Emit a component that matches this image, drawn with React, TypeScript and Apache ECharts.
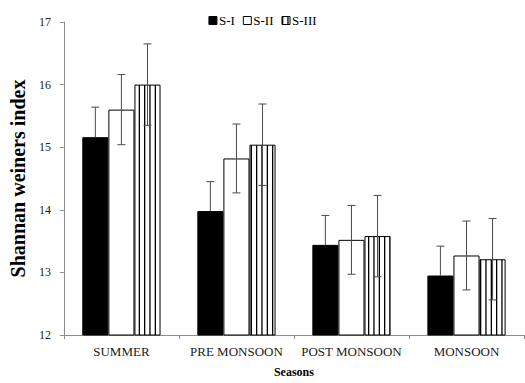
import React, { useEffect, useRef } from "react";
import * as echarts from "echarts";

const categories = ["SUMMER", "PRE MONSOON", "POST MONSOON", "MONSOON"];
const seriesNames = ["S-I", "S-II", "S-III"];
const s1 = [15.16, 13.98, 13.44, 12.95];
const s2 = [15.6, 14.82, 13.52, 13.27];
const s3 = [16.0, 15.04, 13.58, 13.21];
const e1 = [0.48, 0.47, 0.47, 0.47];
const e2 = [0.56, 0.55, 0.55, 0.55];
const e3 = [0.65, 0.65, 0.65, 0.65];

const FONT = "'Liberation Serif', 'Times New Roman', serif";

function makeStripe(): HTMLCanvasElement {
  const c = document.createElement("canvas");
  c.width = 16;
  c.height = 10;
  const ctx = c.getContext("2d")!;
  ctx.fillStyle = "#ffffff";
  ctx.fillRect(0, 0, 16, 10);
  ctx.fillStyle = "#000000";
  ctx.fillRect(0, 0, 1.3, 10);
  ctx.fillRect(5.3, 0, 1.3, 10);
  ctx.fillRect(10.7, 0, 1.3, 10);
  return c;
}

export default function App() {
  const ref = useRef<HTMLDivElement>(null);
  useEffect(() => {
    if (!ref.current) return;
    const chart = echarts.init(ref.current, undefined, { renderer: "svg" });
    const values = [s1, s2, s3];
    const errs = [e1, e2, e3];
    const gapRatio = 0.32;
    const stripe = makeStripe();
    const colors: any[] = ["#000000", "#ffffff", { image: stripe, repeat: "repeat" }];

    const barSeries = values.map((v, i) => ({
      name: seriesNames[i],
      type: "bar",
      data: v,
      barGap: "0%",
      barCategoryGap: "32%",
      itemStyle: { color: colors[i], borderColor: "#000", borderWidth: 1 },
    }));

    const errSeries = values.map((v, i) => ({
      type: "custom",
      name: "err" + i,
      z: 10,
      silent: true,
      data: v.map((val, j) => [j, val, errs[i][j]]),
      renderItem: (params: any, api: any) => {
        const x = api.value(0);
        const y = api.value(1);
        const e = api.value(2);
        const catW = api.size([1, 0])[0];
        const barW = (catW * (1 - gapRatio)) / 3;
        const c = api.coord([x, y]);
        const cx = c[0] + (i - 1) * barW;
        const top = api.coord([x, y + e])[1];
        const bot = api.coord([x, y - e])[1];
        const cap = 4;
        const style = { stroke: "#4a4a4a", lineWidth: 1 };
        const children: any[] = [
          { type: "line", shape: { x1: cx, y1: top, x2: cx, y2: i === 0 ? c[1] : bot }, style },
          { type: "line", shape: { x1: cx - cap, y1: top, x2: cx + cap, y2: top }, style },
        ];
        if (i !== 0) {
          children.push({ type: "line", shape: { x1: cx - cap, y1: bot, x2: cx + cap, y2: bot }, style });
        }
        return { type: "group", children };
      },
    }));

    chart.setOption({
      animation: false,
      backgroundColor: "#ffffff",
      textStyle: { fontFamily: FONT },
      legend: {
        data: seriesNames,
        top: 9,
        left: "center",
        icon: "rect",
        itemWidth: 8,
        itemHeight: 8,
        itemGap: 8,
        itemStyle: { borderColor: "#000", borderWidth: 1 },
        textStyle: { fontFamily: FONT, fontSize: 13, color: "#000", padding: [0, 0, 0, -3] },
      },
      grid: { left: 51, right: 1, top: 22, bottom: 42, containLabel: false },
      xAxis: {
        type: "category",
        data: categories,
        name: "Seasons",
        nameLocation: "middle",
        nameGap: 31,
        nameTextStyle: { fontFamily: FONT, fontWeight: "bold", fontSize: 12, color: "#000" },
        axisLine: { lineStyle: { color: "#8c8c8c" } },
        axisTick: { show: true, length: 4, lineStyle: { color: "#8c8c8c" } },
        axisLabel: { fontFamily: FONT, fontSize: 13, color: "#222", margin: 10, interval: 0 },
      },
      yAxis: {
        type: "value",
        min: 12,
        max: 17,
        interval: 1,
        name: "Shannan weiners index",
        nameLocation: "middle",
        nameGap: 26,
        nameTextStyle: { fontFamily: FONT, fontWeight: "bold", fontSize: 20, color: "#000" },
        splitLine: { show: false },
        axisLine: { show: true, lineStyle: { color: "#8c8c8c" } },
        axisTick: { show: true, length: 4, lineStyle: { color: "#8c8c8c" } },
        axisLabel: { fontFamily: FONT, fontSize: 12, color: "#222", margin: 13 },
      },
      series: [...barSeries, ...errSeries],
    });
    return () => chart.dispose();
  }, []);
  return (
    <div
      ref={ref}
      style={{ position: "fixed", left: 0, top: 0, width: 525, height: 383 }}
    />
  );
}
